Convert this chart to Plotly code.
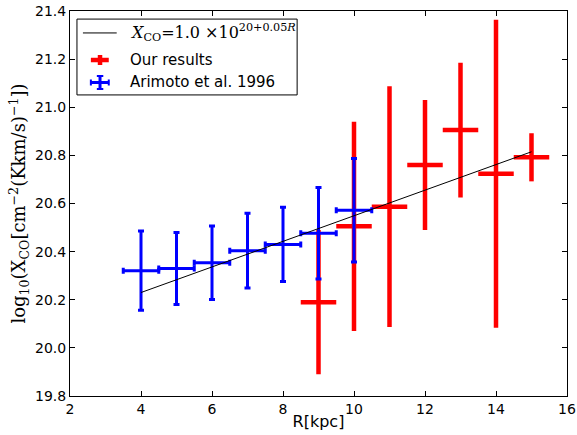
import plotly.graph_objects as go

# Our results (red)
our_r = [9, 10, 11, 12, 13, 14, 15]
our_logx = [20.19, 20.505, 20.587, 20.76, 20.905, 20.724, 20.792]
our_err = [0.30, 0.435, 0.50, 0.27, 0.28, 0.64, 0.10]
our_rerr = [0.5, 0.5, 0.5, 0.5, 0.5, 0.5, 0.5]

# Arimoto et al. 1996 (blue)
ari_r = [4, 5, 6, 7, 8, 9, 10]
ari_logx = [20.321, 20.33, 20.354, 20.404, 20.43, 20.476, 20.572]
ari_err = [0.165, 0.15, 0.153, 0.155, 0.154, 0.19, 0.215]
ari_rerr = [0.5, 0.5, 0.5, 0.5, 0.5, 0.5, 0.5]

# fitted relation
fit_r = [4, 15]
fit_logx = [20.23, 20.815]

RED = '#ff0000'
BLUE = '#0000ff'

fig = go.Figure()

fig.add_trace(go.Scatter(
    x=our_r, y=our_logx, mode='markers',
    marker=dict(size=1, color=RED),
    error_y=dict(type='data', array=our_err, color=RED, thickness=4.5, width=0),
    error_x=dict(type='data', array=our_rerr, color=RED, thickness=4.5, width=0),
    showlegend=False
))

fig.add_trace(go.Scatter(
    x=ari_r, y=ari_logx, mode='markers',
    marker=dict(size=1, color=BLUE),
    error_y=dict(type='data', array=ari_err, color=BLUE, thickness=3, width=3),
    error_x=dict(type='data', array=ari_rerr, color=BLUE, thickness=3, width=3),
    showlegend=False
))

fig.add_trace(go.Scatter(
    x=fit_r, y=fit_logx, mode='lines',
    line=dict(color='black', width=1),
    showlegend=False
))

# hand made legend (matplotlib style)
shapes = [
    dict(type='rect', xref='paper', yref='paper', x0=0.014, x1=0.457, y0=0.782, y1=0.979,
         line=dict(color='black', width=1), fillcolor='white', layer='above'),
    dict(type='line', xref='paper', yref='paper', x0=0.026, x1=0.094, y0=0.943, y1=0.943,
         line=dict(color='black', width=1), layer='above'),
    # red cross
    dict(type='line', xref='paper', yref='paper', x0=0.042, x1=0.078, y0=0.8727, y1=0.8727,
         line=dict(color=RED, width=4.5), layer='above'),
    dict(type='line', xref='paper', yref='paper', x0=0.0604, x1=0.0604, y0=0.8597, y1=0.8857,
         line=dict(color=RED, width=4.5), layer='above'),
    # blue cross with caps
    dict(type='line', xref='paper', yref='paper', x0=0.042, x1=0.078, y0=0.8143, y1=0.8143,
         line=dict(color=BLUE, width=3), layer='above'),
    dict(type='line', xref='paper', yref='paper', x0=0.0604, x1=0.0604, y0=0.7974, y1=0.8312,
         line=dict(color=BLUE, width=3), layer='above'),
    dict(type='line', xref='paper', yref='paper', x0=0.054, x1=0.067, y0=0.7974, y1=0.7974,
         line=dict(color=BLUE, width=2), layer='above'),
    dict(type='line', xref='paper', yref='paper', x0=0.054, x1=0.067, y0=0.8312, y1=0.8312,
         line=dict(color=BLUE, width=2), layer='above'),
    dict(type='line', xref='paper', yref='paper', x0=0.042, x1=0.042, y0=0.8065, y1=0.8221,
         line=dict(color=BLUE, width=2), layer='above'),
    dict(type='line', xref='paper', yref='paper', x0=0.078, x1=0.078, y0=0.8065, y1=0.8221,
         line=dict(color=BLUE, width=2), layer='above'),
]

annotations = [
    dict(xref='paper', yref='paper', x=0.117, y=0.945, xanchor='left', yanchor='middle',
         text='<i>X</i><sub>CO</sub>=1.0 ×10<sup>20+0.05<i>R</i></sup>', showarrow=False,
         font=dict(family='DejaVu Serif', size=16, color='black')),
    dict(xref='paper', yref='paper', x=0.117, y=0.8727, xanchor='left', yanchor='middle',
         text='Our results', showarrow=False,
         font=dict(family='DejaVu Sans', size=15, color='black')),
    dict(xref='paper', yref='paper', x=0.117, y=0.8143, xanchor='left', yanchor='middle',
         text='Arimoto et al. 1996', showarrow=False,
         font=dict(family='DejaVu Sans', size=15, color='black')),
]

axis_style = dict(
    showline=True, linecolor='black', linewidth=1, mirror='allticks',
    ticks='inside', ticklen=5, tickwidth=1, tickcolor='black',
    showgrid=False, zeroline=False, ticklabeloverflow='allow', automargin=False,
    tickfont=dict(family='DejaVu Sans', size=14, color='black'),
)

fig.update_xaxes(range=[2, 16], dtick=2, tick0=2,
                 title=dict(text='R[kpc]', font=dict(family='DejaVu Sans', size=16, color='black'),
                            standoff=0),
                 **axis_style)
fig.update_yaxes(range=[19.8, 21.4], dtick=0.2, tick0=19.8, tickformat='.1f',
                 title=dict(text='log<sub>10</sub>(X<sub>CO</sub>[cm<sup>−2</sup>(Kkm/s)<sup>−1</sup>])',
                            font=dict(family='DejaVu Serif', size=18, color='black'), standoff=4),
                 **axis_style)

fig.update_layout(
    width=577, height=435,
    margin=dict(l=70, r=10, t=11, b=39),
    plot_bgcolor='white', paper_bgcolor='white',
    shapes=shapes, annotations=annotations,
    showlegend=False,
)

# drop the default 8px body margin so the figure sits at the window's corner
fig.write_html("out.html", config={'displayModeBar': False},
               post_script="document.body.style.margin='0';")
